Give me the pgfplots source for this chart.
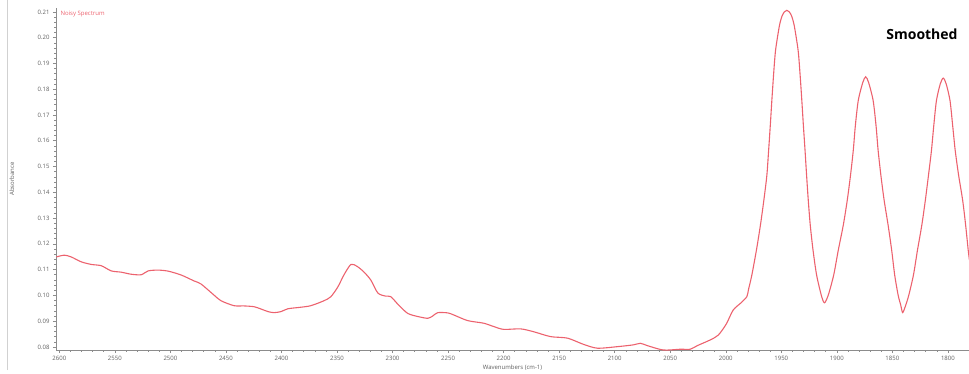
\documentclass[border=0pt]{standalone}
\usepackage{pgfplots}
\pgfplotsset{compat=1.18}
\usepackage{fontspec}
\setmainfont{Open Sans}
\definecolor{spec}{RGB}{236,98,110}
\definecolor{tickgray}{RGB}{95,95,95}
\begin{document}
\begin{tikzpicture}[x=1pt,y=1pt]
\useasboundingbox (0,0) rectangle (969,373);
\draw[black!18, line width=0.8pt] (7,3) -- (7,373);
\begin{axis}[
  at={(56pt,23pt)}, anchor=south west,
  scale only axis, width=913pt, height=342pt,
  xmin=1781, xmax=2603, x dir=reverse,
  ymin=0.0788, ymax=0.2115,
  axis x line*=bottom, axis y line*=left,
  axis line style={-, black!45, line width=0.6pt},
  xtick={1800,1850,1900,1950,2000,2050,2100,2150,2200,2250,2300,2350,2400,2450,2500,2550,2600},
  ytick={0.08,0.09,0.10,0.11,0.12,0.13,0.14,0.15,0.16,0.17,0.18,0.19,0.20,0.21},
  minor x tick num=4, minor y tick num=4,
  tick align=outside, major tick length=3pt, minor tick length=1.5pt,
  tick style={black!45, line width=0.5pt},
  /pgf/number format/assume math mode=true,
  ticklabel style={font=\fontsize{6}{7}\selectfont, text=tickgray},
  yticklabel style={/pgf/number format/fixed, /pgf/number format/precision=2, /pgf/number format/fixed zerofill},
  xticklabel style={/pgf/number format/set thousands separator={}},
  xlabel={Wavenumbers (cm-1)}, ylabel={Absorbance},
  every axis y label/.style={at={(axis description cs:-0.0482,0.5)}, anchor=center, rotate=90, font=\fontsize{6}{7}\selectfont, text=tickgray},
  every axis x label/.style={at={(axis description cs:0.5,0)}, anchor=center, yshift=-18pt, font=\fontsize{6}{7}\selectfont, text=tickgray},
]
\addplot[spec, line width=1.1pt, smooth, tension=0.45] coordinates {
(2602.7,0.1149) (2595.5,0.1156) (2589.2,0.1149) (2580.2,0.1130) (2571.2,0.1120)
(2562.2,0.1115) (2553.3,0.1095) (2544.3,0.1090) (2535.3,0.1082) (2526.3,0.1080)
(2520.0,0.1095) (2511.0,0.1098) (2502.0,0.1094) (2490.3,0.1079) (2478.7,0.1056)
(2472.4,0.1044) (2460.7,0.1001) (2454.4,0.0979) (2442.7,0.0960) (2433.7,0.0959)
(2424.7,0.0956) (2418.4,0.0947) (2412.1,0.0937) (2406.7,0.0933) (2400.4,0.0937)
(2394.2,0.0948) (2382.5,0.0954) (2373.5,0.0960) (2361.8,0.0979) (2355.5,0.0995)
(2349.2,0.1033) (2343.8,0.1079) (2337.5,0.1120) (2332.1,0.1113) (2325.8,0.1091)
(2319.5,0.1059) (2313.2,0.1009) (2306.1,0.0997) (2301.6,0.0995) (2294.4,0.0962)
(2286.3,0.0930) (2277.3,0.0918) (2268.3,0.0911) (2263.8,0.0920) (2259.3,0.0933)
(2250.3,0.0932) (2244.9,0.0924) (2232.3,0.0902) (2217.9,0.0892) (2208.9,0.0879)
(2199.9,0.0868) (2184.7,0.0870) (2173.0,0.0859) (2157.8,0.0840) (2142.5,0.0834)
(2128.1,0.0810) (2115.5,0.0795) (2097.5,0.0801) (2083.1,0.0808) (2076.8,0.0814)
(2070.6,0.0805) (2056.2,0.0788) (2041.0,0.0791) (2032.0,0.0791) (2025.6,0.0805)
(2014.0,0.0827) (2006.7,0.0846) (1999.5,0.0889) (1993.3,0.0943) (1986.0,0.0972)
(1981.0,0.0995) (1979.6,0.1021) (1976.5,0.1079) (1972.4,0.1175) (1968.8,0.1272)
(1965.7,0.1369) (1963.0,0.1465) (1961.4,0.1562) (1959.9,0.1659) (1958.5,0.1756)
(1957.0,0.1852) (1955.2,0.1949) (1951.7,0.2046) (1949.3,0.2084) (1947.2,0.2100)
(1945.0,0.2106)
(1942.8,0.2100) (1940.7,0.2084) (1938.3,0.2046) (1934.8,0.1949) (1933.0,0.1852)
(1931.5,0.1756) (1930.1,0.1659) (1928.6,0.1562) (1927.2,0.1465) (1925.7,0.1369)
(1923.9,0.1272) (1921.4,0.1175) (1918.2,0.1079) (1914.0,0.1001) (1911.2,0.0971)
(1907.7,0.1001) (1902.8,0.1079) (1898.7,0.1175) (1894.2,0.1272) (1890.6,0.1369)
(1887.7,0.1465) (1885.2,0.1562) (1883.3,0.1659) (1880.7,0.1756)
(1876.7,0.1825) (1874.0,0.1848) (1871.3,0.1825)
(1867.3,0.1756) (1864.7,0.1659) (1862.8,0.1562)
(1860.3,0.1465) (1857.4,0.1369) (1853.8,0.1272) (1850.6,0.1175) (1847.9,0.1079)
(1844.8,0.1001) (1842.5,0.0963) (1840.7,0.0933)
(1837.9,0.0963) (1835.2,0.1001) (1831.0,0.1079) (1827.4,0.1175) (1823.5,0.1272)
(1820.3,0.1369) (1817.5,0.1465) (1814.8,0.1562) (1812.7,0.1659) (1810.3,0.1756)
(1806.9,0.1820) (1804.2,0.1843) (1801.5,0.1820)
(1798.1,0.1756) (1795.7,0.1659) (1793.4,0.1562)
(1790.3,0.1465) (1786.7,0.1369) (1784.0,0.1272) (1781.7,0.1175) (1780.6,0.1137)
};
\node[anchor=west, text=spec, font=\fontsize{6}{7}\selectfont] at (rel axis cs:0,1) [xshift=1pt, yshift=-6pt] {Noisy Spectrum};
\node[font=\bfseries\fontsize{14}{16}\selectfont] at (rel axis cs:0.9485,0.924) {Smoothed};
\end{axis}
\end{tikzpicture}
\end{document}
